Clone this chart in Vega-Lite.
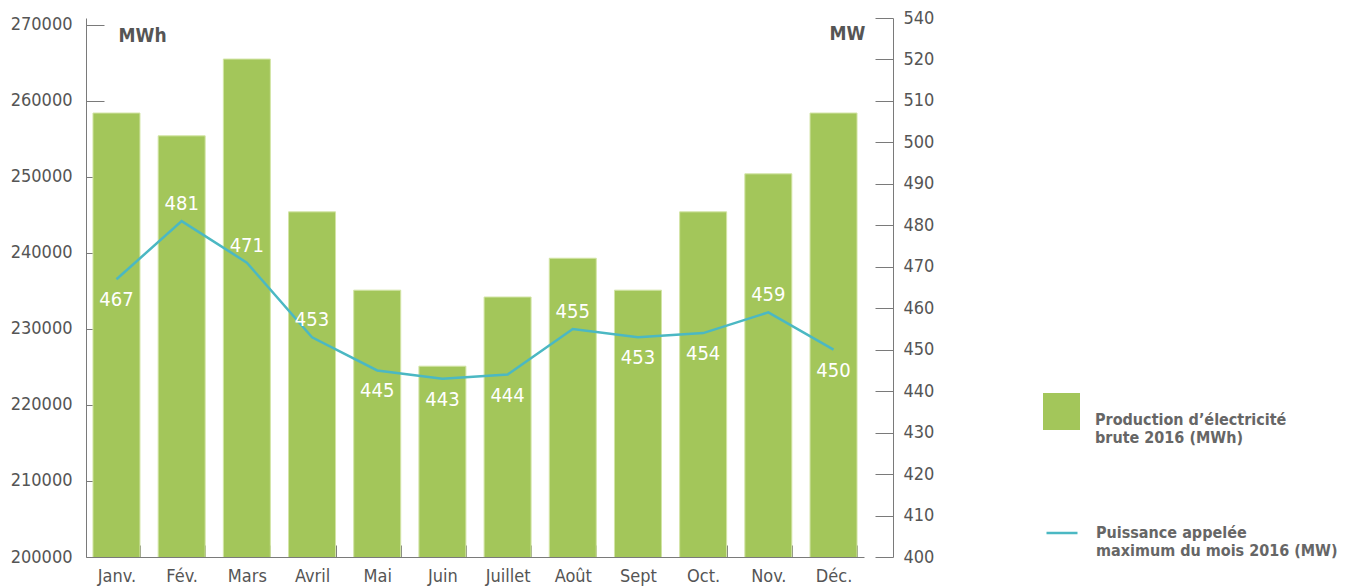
{
  "$schema": "https://vega.github.io/schema/vega-lite/v6.json",
  "width": 778,
  "height": 539,
  "autosize": {"type": "none"},
  "padding": {"left": 86, "top": 18, "right": 484, "bottom": 31},
  "background": "white",
  "config": {
    "view": {"stroke": null},
    "font": "DejaVu Sans Condensed, sans-serif",
    "axis": {
      "labelFont": "DejaVu Sans Condensed, sans-serif",
      "titleFont": "DejaVu Sans Condensed, sans-serif",
      "labelColor": "#555555",
      "titleColor": "#555555",
      "domainColor": "#7a7a7a",
      "tickColor": "#7a7a7a",
      "labelFontSize": 18,
      "grid": false
    },
    "legend": {
      "labelFont": "DejaVu Sans Condensed, sans-serif",
      "labelFontSize": 16,
      "labelFontWeight": "bold",
      "labelColor": "#666666",
      "labelLimit": 400,
      "padding": 0
    }
  },
  "data": {
    "values": [
      {"mois": "Janv.", "mwh": 258400, "mw": 467},
      {"mois": "Fév.", "mwh": 255400, "mw": 481},
      {"mois": "Mars", "mwh": 265500, "mw": 471},
      {"mois": "Avril", "mwh": 245400, "mw": 453},
      {"mois": "Mai", "mwh": 235100, "mw": 445},
      {"mois": "Juin", "mwh": 225100, "mw": 443},
      {"mois": "Juillet", "mwh": 234200, "mw": 444},
      {"mois": "Août", "mwh": 239300, "mw": 455},
      {"mois": "Sept", "mwh": 235100, "mw": 453},
      {"mois": "Oct.", "mwh": 245400, "mw": 454},
      {"mois": "Nov.", "mwh": 250400, "mw": 459},
      {"mois": "Déc.", "mwh": 258400, "mw": 450}
    ]
  },
  "encoding": {
    "x": {
      "field": "mois",
      "type": "nominal",
      "sort": null,
      "scale": {"paddingInner": 0.279, "paddingOuter": 0.107},
      "axis": {
        "title": null,
        "labelAngle": 0,
        "tickBand": "extent",
        "tickSize": -12,
        "labelPadding": 22,
        "labelFontSize": 18
      }
    }
  },
  "layer": [
    {
      "mark": {"type": "bar", "clip": true, "stroke": "#d3e5a6", "strokeWidth": 1},
      "encoding": {
        "y": {
          "field": "mwh",
          "type": "quantitative",
          "scale": {"domain": [200000, 270900], "nice": false, "zero": false},
          "axis": {
            "orient": "left",
            "values": [200000, 210000, 220000, 230000, 240000, 250000, 260000, 270000],
            "format": "d",
            "title": "MWh",
            "titleAngle": 0,
            "titleX": 32,
            "titleY": 17,
            "titleAlign": "left",
            "titleBaseline": "middle",
            "titleFontWeight": "bold",
            "titleFontSize": 19,
            "tickSize": -18,
            "labelPadding": 32
          }
        },
        "fill": {
          "datum": "prod",
          "type": "nominal",
          "scale": {"range": ["#a3c65a"]},
          "legend": {
            "orient": "none",
            "legendX": 957,
            "legendY": 375,
            "title": null,
            "symbolType": "square",
            "symbolSize": 1369,
            "symbolStrokeWidth": 0,
            "labelExpr": "['Production d’électricité', 'brute 2016 (MWh)']",
            "labelBaseline": "top",
            "labelOffset": 15
          }
        }
      }
    },
    {
      "encoding": {
        "y": {
          "field": "mw",
          "type": "quantitative",
          "scale": {"domain": [400, 530], "nice": false, "zero": false},
          "axis": {
            "orient": "right",
            "offset": 29,
            "values": [400, 410, 420, 430, 440, 450, 460, 470, 480, 490, 500, 510, 520, 530],
            "labelExpr": "datum.value == 530 ? '540' : datum.label",
            "title": "MW",
            "titleAngle": 0,
            "titleX": -28,
            "titleY": 15,
            "titleAlign": "right",
            "titleBaseline": "middle",
            "titleFontWeight": "bold",
            "titleFontSize": 19,
            "tickSize": -18,
            "labelPadding": 28
          }
        }
      },
      "layer": [
        {
          "mark": {"type": "line", "strokeWidth": 2.5},
          "encoding": {
            "stroke": {
              "datum": "mw",
              "type": "nominal",
              "scale": {"range": ["#4bb8c3"]},
              "legend": {
                "orient": "none",
                "legendX": 959,
                "legendY": 498,
                "title": null,
                "symbolType": "stroke",
                "symbolSize": 961,
                "symbolStrokeWidth": 2.5,
                "labelExpr": "['Puissance appelée', 'maximum du mois 2016 (MW)']",
                "labelBaseline": "middle",
                "labelOffset": 17
              }
            }
          }
        },
        {
          "transform": [{"filter": {"field": "mois", "oneOf": ["Fév.", "Mars", "Avril", "Août", "Nov."]}}],
          "mark": {"type": "text", "color": "white", "fontSize": 20, "dy": -17},
          "encoding": {"text": {"field": "mw", "type": "quantitative"}}
        },
        {
          "transform": [{"filter": {"field": "mois", "oneOf": ["Janv.", "Mai", "Juin", "Juillet", "Sept", "Oct.", "Déc."]}}],
          "mark": {"type": "text", "color": "white", "fontSize": 20, "dy": 21},
          "encoding": {"text": {"field": "mw", "type": "quantitative"}}
        }
      ]
    }
  ],
  "resolve": {"scale": {"y": "independent", "fill": "independent", "stroke": "independent"}}
}
